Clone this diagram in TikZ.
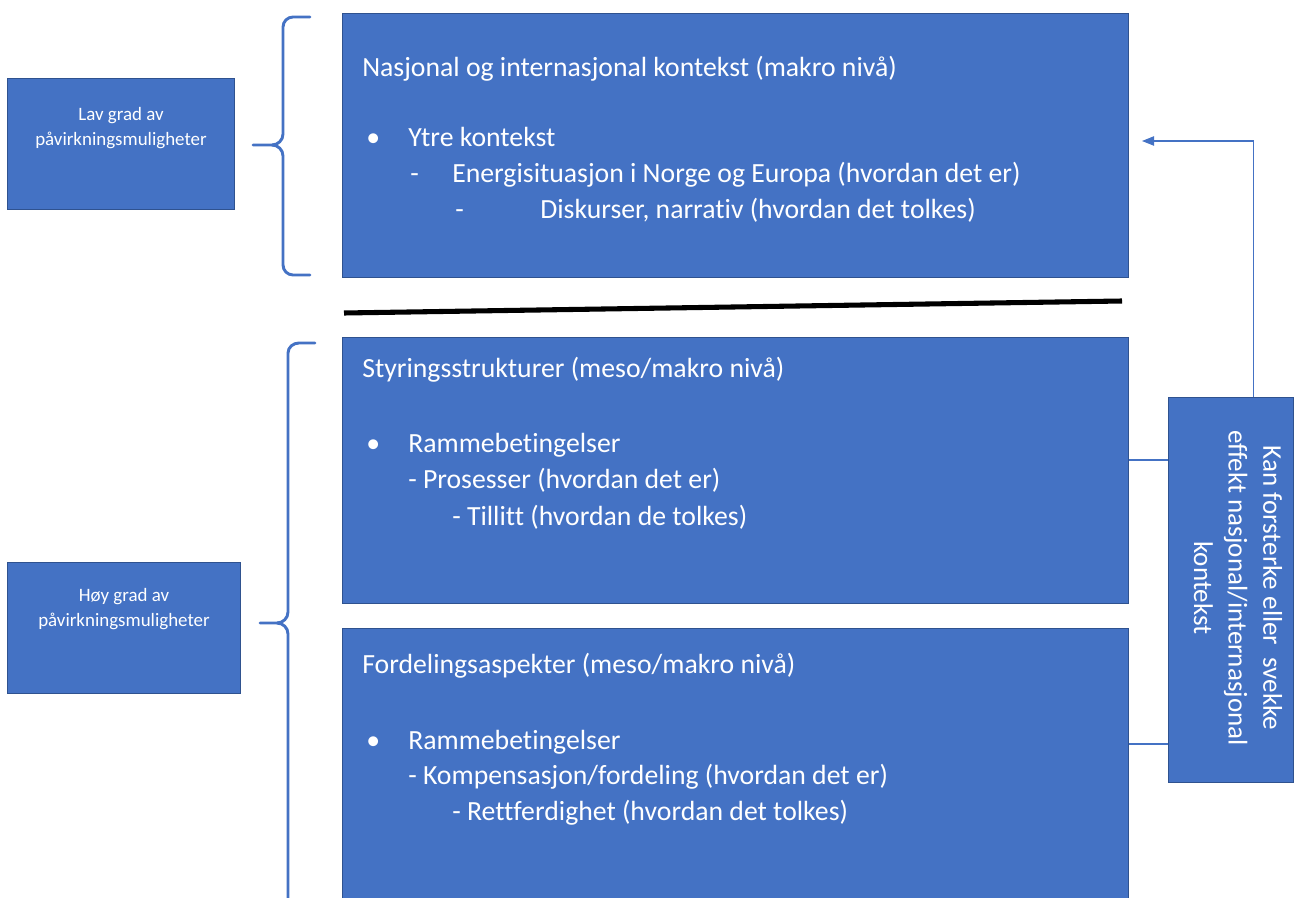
\documentclass[tikz,border=0pt]{standalone}
\usepackage{fontspec}
\setmainfont{Carlito}[Ligatures=NoCommon]
\usetikzlibrary{calc,arrows.meta}
\definecolor{boxblue}{HTML}{4472C4}
\definecolor{boxedge}{HTML}{2F528F}
\begin{document}
\begin{tikzpicture}[x=0.75pt,y=-0.75pt,
  bluebox/.style={draw=boxedge,line width=0.9pt,fill=boxblue,anchor=north west,inner sep=0pt},
  txt/.style={text=white,anchor=west,inner sep=0pt,text height=14pt,text depth=4.5pt,yshift=-3pt,font=\fontsize{20.8}{25}\selectfont},
  smalltxt/.style={text=white,align=center,inner sep=0pt,font=\fontsize{14.2}{18.5}\selectfont},
  conn/.style={draw=boxblue,line width=0.8pt},
  bracestyle/.style={draw=boxblue,line width=2.2pt,line cap=round,line join=round}]
\useasboundingbox (0,0) rectangle (1295,898);
% boxes
\node[bluebox,minimum width=227*0.75pt,minimum height=131*0.75pt] (low) at (7,78) {};
\node[bluebox,minimum width=233*0.75pt,minimum height=131*0.75pt] (high) at (7,562) {};
\node[bluebox,minimum width=786*0.75pt,minimum height=264*0.75pt] (b1) at (342,13) {};
\node[bluebox,minimum width=786*0.75pt,minimum height=266*0.75pt] (b2) at (342,337) {};
\node[bluebox,minimum width=786*0.75pt,minimum height=272*0.75pt] (b3) at (342,628) {};
\node[bluebox,minimum width=125*0.75pt,minimum height=385*0.75pt] (rbox) at (1168,397) {};
% left labels
\node[smalltxt] (lowtxt) at (121,128) {Lav grad av\\påvirkningsmuligheter};
\node[smalltxt] (hightxt) at (124,609) {Høy grad av\\påvirkningsmuligheter};
% top box text
\node[txt] (t1) at (362,66) {Nasjonal og internasjonal kontekst (makro nivå)};
\node[txt] (t1b) at (366,136) {\textbullet};
\node[txt] (t1c) at (408,136) {Ytre kontekst};
\node[txt] (t1d) at (410,172) {-};
\node[txt] (t1e) at (452,172) {Energisituasjon i Norge og Europa (hvordan det er)};
\node[txt] (t1f) at (455,208) {-};
\node[txt] (t1g) at (540,208) {Diskurser, narrativ (hvordan det tolkes)};
% second box
\node[txt] (t2) at (362,367) {Styringsstrukturer (meso/makro nivå)};
\node[txt] (t2b) at (366,442) {\textbullet};
\node[txt] (t2c) at (408,442) {Rammebetingelser};
\node[txt] (t2d) at (408,478) {- Prosesser (hvordan det er)};
\node[txt] (t2e) at (452,515) {- Tillitt (hvordan de tolkes)};
% third box
\node[txt] (t3) at (362,663) {Fordelingsaspekter (meso/makro nivå)};
\node[txt] (t3b) at (366,739) {\textbullet};
\node[txt] (t3c) at (408,739) {Rammebetingelser};
\node[txt] (t3d) at (408,774) {- Kompensasjon/fordeling (hvordan det er)};
\node[txt] (t3e) at (452,810) {- Rettferdighet (hvordan det tolkes)};
% right rotated text
\node[text=white,rotate=-90,align=center,inner sep=0pt,font=\fontsize{20.3}{26}\selectfont] (rtxt) at (1238,588) {Kan forsterke eller\ \ svekke\\effekt nasjonal/internasjonal\\kontekst};
% separator line
\draw[line width=3.8pt,black] (344,313) -- (1122,301);
% connectors
\draw[conn] ($(b2.north east)+(0,123)$) -- ($(rbox.west |- b2.north east)+(0,123)$);
\draw[conn] ($(b3.north east)+(0,116)$) -- ($(rbox.west |- b3.north east)+(0,116)$);
\coordinate (atip) at (1142,141);
\draw[conn,-{Triangle[length=9pt,width=7pt]}] ($(rbox.north)+(22,0)$) |- (atip);
% braces
\draw[bracestyle] (310,17) -- (293,17) to[out=180,in=90] (283,27) -- (283,134)
  to[out=-90,in=0] (272,145) -- (253,145);
\draw[bracestyle] (272,145) to[out=0,in=90] (283,156) -- (283,265)
  to[out=-90,in=180] (293,275) -- (310,275);
\draw[bracestyle] (315,343) -- (299,343) to[out=180,in=90] (288,353) -- (288,612)
  to[out=-90,in=0] (277,623) -- (260,623);
\draw[bracestyle] (277,623) to[out=0,in=90] (288,634) -- (288,900);
\end{tikzpicture}
\end{document}
